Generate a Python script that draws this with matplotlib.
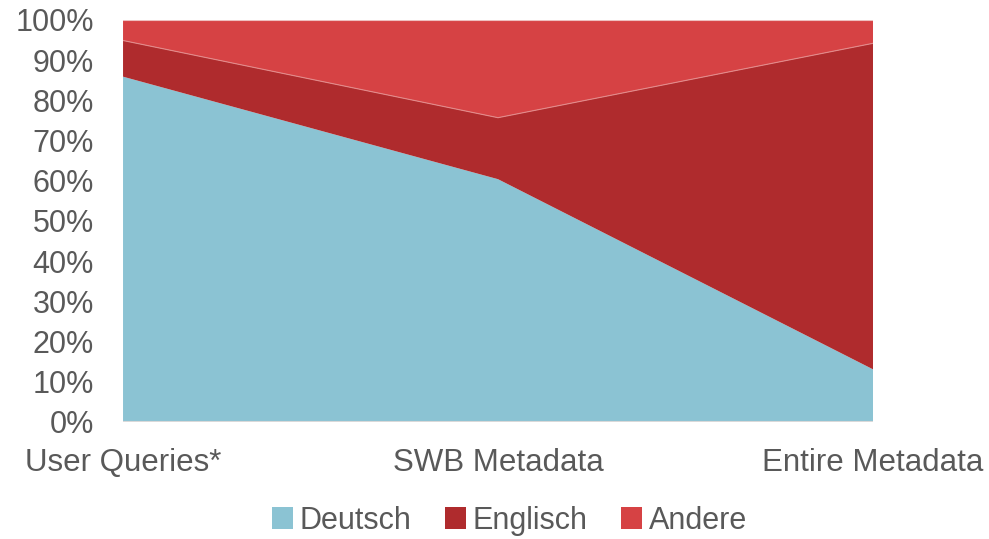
import matplotlib.pyplot as plt
import numpy as np
from matplotlib.patches import Patch
from matplotlib.ticker import PercentFormatter

plt.rcParams["font.family"] = ["Liberation Sans", "DejaVu Sans"]

categories = ["User Queries*", "SWB Metadata", "Entire Metadata"]
deutsch = [85.9, 60.4, 13.1]
englisch = [9.0, 15.3, 81.1]
andere = [5.1, 24.3, 5.8]

labels = ["Deutsch", "Englisch", "Andere"]
colors = ["#8BC3D3", "#AF2B2D", "#D64244"]

fig = plt.figure(figsize=(9.89, 5.39), dpi=100)
ax = fig.add_axes([0.1244, 0.2171, 0.7583, 0.7458])

x = np.arange(len(categories))
ax.stackplot(x, deutsch, englisch, andere, colors=colors, linewidth=0)
# faint seam between the red layers, like the original
top_en = np.array(deutsch) + np.array(englisch)
ax.plot(x, top_en, color="#e38a8a", linewidth=0.8)
ax.plot(x, np.array(top_en) + np.array(andere), color="#eec0c0", linewidth=0.8)

ax.set_xlim(0, len(categories) - 1)
ax.set_ylim(0, 100)
ax.set_yticks(range(0, 101, 10))
ax.yaxis.set_major_formatter(PercentFormatter(decimals=0))
ax.set_xticks(x)
ax.set_xticklabels(categories)
ax.tick_params(length=0, labelsize=22, labelcolor="#595959")
ax.tick_params(axis="x", pad=19, labelsize=22.5)
ax.tick_params(axis="y", pad=21)
for s in ax.spines.values():
    s.set_visible(False)
ax.axhline(0, color="#d9d9d9", linewidth=1.5, zorder=5)

handles = [Patch(facecolor=c, edgecolor="none") for c in colors]
fig.legend(handles, labels, loc="lower center", bbox_to_anchor=(0.515, -0.045),
           ncol=3, frameon=False, fontsize=22, labelcolor="#595959",
           handlelength=0.7, handleheight=0.7, handletextpad=0.2,
           columnspacing=1.1)

fig.savefig("out.png", dpi=100)
